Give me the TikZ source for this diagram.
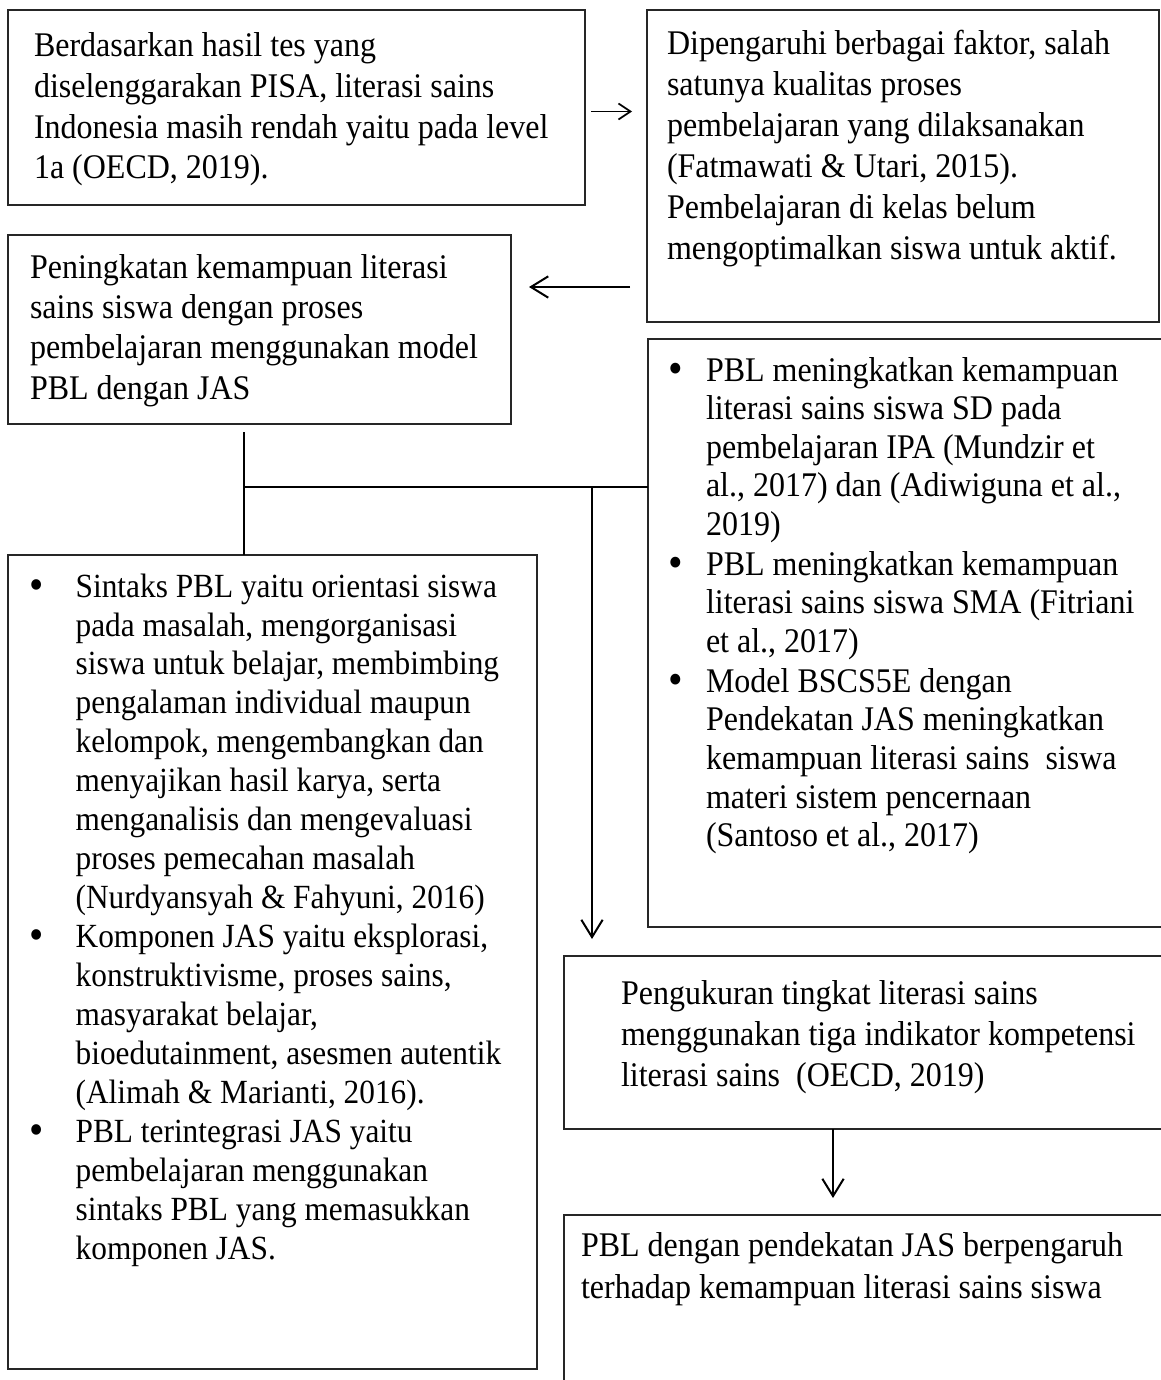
\documentclass[tikz,border=0pt]{standalone}
\usepackage{fontspec}
\setmainfont{Liberation Serif}
\usepackage{graphicx}
\usetikzlibrary{arrows.meta,fit,calc}
\newcommand{\blt}{\raisebox{-0.06em}{\scalebox{1.3}{\textbullet}}}
\newcommand{\vs}[1]{\scalebox{1}[1.08]{#1}}
\begin{document}
\begin{tikzpicture}[x=0.75pt,y=-0.75pt,
  box/.style={draw=black!85, line width=1.3pt, inner sep=0pt, outer sep=0pt},
  con/.style={draw=black, line width=1.6pt},
  tip/.style={con, -{Straight Barb[length=13pt,width=16pt,line width=1.5pt]}},
  tipsmall/.style={con, line width=1.3pt, -{Straight Barb[length=9pt,width=12pt,line width=1.3pt]}},
  txt/.style={anchor=base west, inner sep=0pt, outer sep=0pt, font=\fontsize{24}{#1}\selectfont},
  txtE/.style={anchor=base west, inner sep=0pt, outer sep=0pt, font=\fontsize{23.5}{#1}\selectfont},
]
\useasboundingbox (0,0) rectangle (1160,1380);

% boxes
\node[box, fit={(8,10)(585,205)}] (A) {};
\node[box, fit={(647,10)(1159,322)}] (B) {};
\node[box, fit={(8,235)(511,424)}] (C) {};
\node[box, fit={(648,339)(1175,927)}] (D) {};
\node[box, fit={(8,555)(537,1369)}] (E) {};
\node[box, fit={(564,956)(1175,1129)}] (F) {};
\node[box, fit={(564,1215)(1175,1395)}] (G) {};

% texts
\node[txt=28.15] (tA) at (34,57) {\vs{\begin{tabular}[t]{@{}l@{}}
Berdasarkan hasil tes yang\\
diselenggarakan PISA, literasi sains\\
Indonesia masih rendah yaitu pada level\\
1a (OECD, 2019).\end{tabular}}};

\node[txt=28.47] (tB) at (667,55) {\vs{\begin{tabular}[t]{@{}l@{}}
Dipengaruhi berbagai faktor, salah\\
satunya kualitas proses\\
pembelajaran yang dilaksanakan\\
(Fatmawati \& Utari, 2015).\\
Pembelajaran di kelas belum\\
mengoptimalkan siswa untuk aktif.\end{tabular}}};

\node[txt=28.06] (tC) at (30,278) {\vs{\begin{tabular}[t]{@{}l@{}}
Peningkatan kemampuan literasi\\
sains siswa dengan proses\\
pembelajaran menggunakan model\\
PBL dengan JAS\end{tabular}}};

\node[txt=26.76] (tD) at (668,381) {\vs{\begin{tabular}[t]{@{}l@{}l@{}}
\makebox[28.5pt][l]{\blt} & PBL meningkatkan kemampuan\\
 & literasi sains siswa SD pada\\
 & pembelajaran IPA (Mundzir et\\
 & al., 2017) dan (Adiwiguna et al.,\\
 & 2019)\\[1.1pt]
\blt & PBL meningkatkan kemampuan\\
 & literasi sains siswa SMA (Fitriani\\
 & et al., 2017)\\[1.1pt]
\blt & Model BSCS5E dengan\\
 & Pendekatan JAS meningkatkan\\
 & kemampuan literasi sains\ \ siswa\\
 & materi sistem pencernaan\\
 & (Santoso et al., 2017)\end{tabular}}};

\node[txtE=27.08] (tE) at (29,597) {\vs{\begin{tabular}[t]{@{}l@{}l@{}}
\makebox[35pt][l]{\blt} & Sintaks PBL yaitu orientasi siswa\\
 & pada masalah, mengorganisasi\\
 & siswa untuk belajar, membimbing\\
 & pengalaman individual maupun\\
 & kelompok, mengembangkan dan\\
 & menyajikan hasil karya, serta\\
 & menganalisis dan mengevaluasi\\
 & proses pemecahan masalah\\
 & (Nurdyansyah \& Fahyuni, 2016)\\
\blt & Komponen JAS yaitu eksplorasi,\\
 & konstruktivisme, proses sains,\\
 & masyarakat belajar,\\
 & bioedutainment, asesmen autentik\\
 & (Alimah \& Marianti, 2016).\\
\blt & PBL terintegrasi JAS yaitu\\
 & pembelajaran menggunakan\\
 & sintaks PBL yang memasukkan\\
 & komponen JAS.\end{tabular}}};

\node[txt=28.47] (tF) at (621,1004) {\vs{\begin{tabular}[t]{@{}l@{}}
Pengukuran tingkat literasi sains\\
menggunakan tiga indikator kompetensi\\
literasi sains\ \ (OECD, 2019)\end{tabular}}};

\node[txt=29.63] (tG) at (581,1256) {\vs{\begin{tabular}[t]{@{}l@{}}
PBL dengan pendekatan JAS berpengaruh\\
terhadap kemampuan literasi sains siswa\end{tabular}}};

% connectors
\draw[tipsmall] ($(A.east)+(6,4)$) -- ($(A.east -| B.west)+(-15,4)$);
\draw[tip] ($(B.south west)+(-17,-35)$) -- ($(C.north east)+(18,52)$);
\coordinate (j) at ($(C.south west)+(236,63)$);
\coordinate (k) at ($(j -| F.west)+(28,0)$);
\draw[con] ($(C.south west)+(236,8)$) -- (j |- E.north);
\draw[con] (j) -- (j -| D.west);
\draw[tip] (k) -- ($(k |- F.north)+(0,-17)$);
\draw[tip] ($(F.south west)+(269,0)$) -- ($(F.south west |- G.north)+(269,-17)$);
\end{tikzpicture}
\end{document}
